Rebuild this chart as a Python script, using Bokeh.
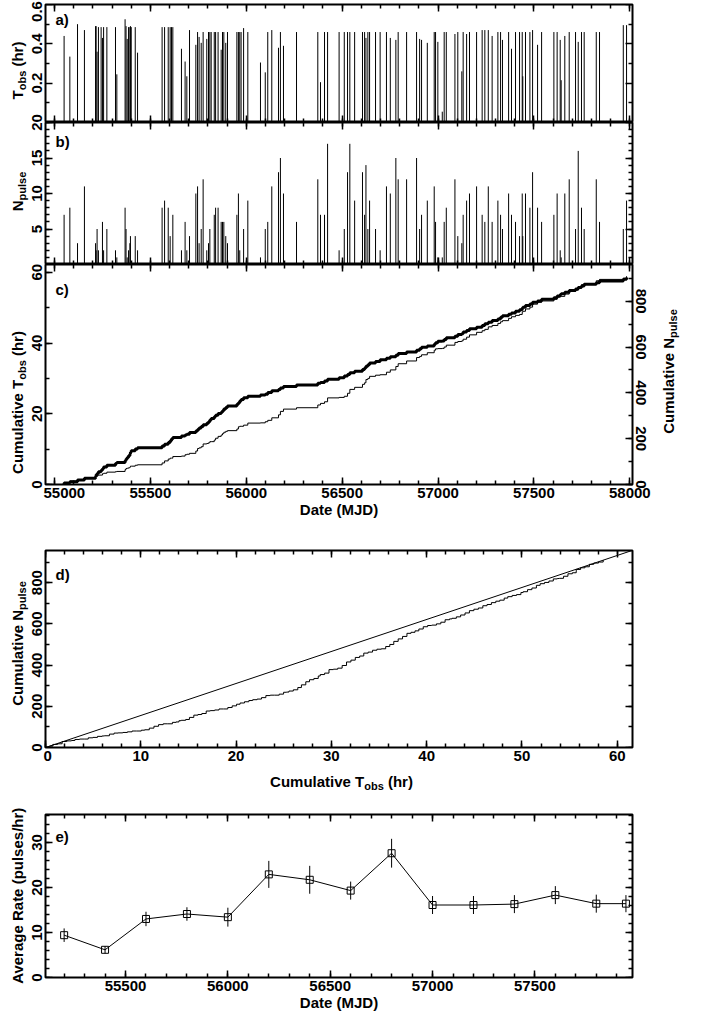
import numpy as np
from bokeh.plotting import figure
from bokeh.models import Range1d, LinearAxis, FixedTicker, Label, ColumnDataSource
from bokeh.layouts import column, row
from bokeh.embed import file_html
from bokeh.resources import INLINE

# ---------------- data ----------------
mjd = [55050, 55080, 55120, 55156, 55214, 55217, 55222, 55229, 55243, 55250,
       55256, 55273, 55318, 55325, 55368, 55373, 55379, 55386, 55393, 55396,
       55400, 55421, 55433, 55561, 55574, 55593, 55603, 55610, 55617, 55662,
       55681, 55690, 55704, 55737, 55746, 55754, 55765, 55775, 55794, 55803,
       55810, 55817, 55833, 55840, 55853, 55869, 55876, 55883, 55893, 55902,
       55951, 55959, 55966, 55973, 55986, 56008, 56074, 56099, 56112, 56133,
       56168, 56178, 56194, 56262, 56373, 56387, 56408, 56424, 56484, 56511,
       56528, 56540, 56565, 56606, 56617, 56624, 56634, 56643, 56674, 56698,
       56731, 56751, 56780, 56792, 56836, 56888, 56904, 56914, 56944, 56980,
       56987, 56999, 57022, 57032, 57043, 57088, 57103, 57124, 57131, 57149,
       57164, 57201, 57230, 57244, 57262, 57282, 57312, 57326, 57336, 57368,
       57383, 57404, 57425, 57439, 57442, 57456, 57479, 57493, 57519, 57540,
       57604, 57621, 57637, 57642, 57661, 57684, 57717, 57731, 57748, 57762,
       57825, 57842, 57966, 57983]
t_obs = [0.44, 0.335, 0.50, 0.47, 0.49, 0.49, 0.36, 0.485, 0.485, 0.43,
         0.485, 0.485, 0.485, 0.245, 0.525, 0.49, 0.425, 0.485, 0.485, 0.49,
         0.485, 0.485, 0.355, 0.485, 0.485, 0.485, 0.485, 0.485, 0.485, 0.375,
         0.31, 0.235, 0.47, 0.395, 0.46, 0.435, 0.405, 0.46, 0.425, 0.46,
         0.46, 0.46, 0.46, 0.46, 0.46, 0.37, 0.46, 0.46, 0.405, 0.46,
         0.46, 0.46, 0.46, 0.46, 0.48, 0.46, 0.305, 0.255, 0.46, 0.47,
         0.38, 0.46, 0.39, 0.46, 0.46, 0.205, 0.46, 0.46, 0.46, 0.46,
         0.46, 0.46, 0.46, 0.46, 0.46, 0.43, 0.46, 0.46, 0.46, 0.46,
         0.46, 0.43, 0.42, 0.46, 0.46, 0.46, 0.425, 0.42, 0.405, 0.46,
         0.46, 0.41, 0.055, 0.46, 0.46, 0.45, 0.46, 0.26, 0.46, 0.45,
         0.46, 0.46, 0.47, 0.47, 0.47, 0.44, 0.46, 0.46, 0.42, 0.46,
         0.375, 0.46, 0.46, 0.46, 0.235, 0.46, 0.46, 0.47, 0.395, 0.46,
         0.46, 0.46, 0.42, 0.215, 0.44, 0.46, 0.46, 0.41, 0.46, 0.46,
         0.46, 0.46, 0.495, 0.495]
n_pulse = [7, 8, 3, 11, 3, 2, 5, 2, 0, 6,
           2, 5, 2, 1, 8, 5, 1, 2, 3, 4,
           0, 4, 2, 8, 9, 8, 4, 0, 7, 2,
           6, 2, 4, 10, 11, 3, 5, 12, 2, 3,
           5, 0, 7, 8, 8, 6, 6, 6, 4, 3,
           7, 10, 2, 0, 5, 9, 1, 5, 6, 11,
           13, 15, 10, 6, 12, 7, 7, 17, 2, 5,
           13, 17, 9, 13, 7, 14, 5, 9, 5, 2,
           11, 10, 15, 12, 12, 15, 5, 7, 9, 11,
           6, 1, 1, 6, 8, 12, 4, 3, 7, 9,
           10, 11, 7, 6, 11, 6, 9, 7, 5, 10,
           7, 6, 4, 10, 4, 10, 8, 13, 8, 6,
           7, 10, 2, 1, 10, 12, 5, 16, 8, 5,
           12, 6, 5, 9]

bin_mjd = [55200, 55400, 55600, 55800, 56000, 56200, 56400, 56600, 56800,
           57000, 57200, 57400, 57600, 57800, 57945]
avg_rate = [9.4, 6.15, 13.0, 14.1, 13.4, 22.9, 21.7, 19.3, 27.6,
            16.1, 16.1, 16.3, 18.3, 16.4, 16.4]
rate_err = [1.5, 0.8, 1.6, 1.5, 2.1, 3.0, 3.1, 2.0, 3.2,
            2.0, 2.0, 2.0, 2.0, 2.0, 1.9]

# tick labels shown on the left-hand axes
yticks_a = [0.2, 0.4, 0.6]
yticks_b = [5, 10, 15, 20]
yticks_c = [0, 20, 40, 60]
yticks_d = [0, 200, 400, 600, 800]
yticks_e = [0, 10, 20, 30]

# ---------------- derived tables ----------------
cum_t = np.cumsum(t_obs)
cum_n = np.cumsum(n_pulse)
mean_rate = cum_n[-1] / cum_t[-1]

obs_src = ColumnDataSource(dict(x=mjd, t=t_obs, n=n_pulse, z=[0] * len(mjd)))
cum_src = ColumnDataSource(dict(x=[mjd[0]] + mjd, ct=[0.0] + list(cum_t),
                                cn=[0] + list(cum_n)))
rate_src = ColumnDataSource(dict(x=bin_mjd, r=avg_rate,
                                 lo=[r - e for r, e in zip(avg_rate, rate_err)],
                                 hi=[r + e for r, e in zip(avg_rate, rate_err)]))

FONT = "Liberation Sans"
FW = 587
ROT = np.pi / 2
MAJ, MIN = 7, 4

# Liberation Sans Bold advance widths (1/1000 em)
AW = {' ': 278, '(': 333, ')': 333, '.': 278, '/': 278, 'A': 722, 'C': 722, 'N': 722,
      'R': 722, 'T': 611, 'a': 556, 'b': 611, 'e': 556, 'g': 611, 'h': 611, 'i': 278,
      'l': 278, 'm': 889, 'o': 611, 'p': 611, 'r': 389, 's': 556, 't': 333, 'u': 611,
      'v': 556}


def tw(s, size):
    return sum(AW.get(c, 556) for c in s) * size / 1000.0


def make_fig(fh, xr, yr, top, bottom, right=2):
    p = figure(frame_width=FW, frame_height=fh, x_range=xr, y_range=yr,
               x_axis_location=None, y_axis_location=None,
               min_border_left=2, min_border_right=right,
               min_border_top=top, min_border_bottom=bottom,
               output_backend="svg", toolbar_location=None)
    p.grid.visible = False
    p.outline_line_color = "black"
    p.outline_line_width = 2
    p.background_fill_color = "white"
    p.border_fill_color = "white"
    return p


def tick_only(p, side, loc, major, minor, range_name=None):
    for vals, L in ((major, MAJ), (minor, MIN)):
        ax = LinearAxis(ticker=FixedTicker(ticks=[], minor_ticks=list(vals)),
                        fixed_location=loc)
        if range_name:
            ax.y_range_name = range_name
        ax.axis_line_color = None
        ax.major_tick_in = 0
        ax.major_tick_out = 0
        ax.minor_tick_in = L
        ax.minor_tick_out = 0
        ax.minor_tick_line_width = 1.5
        ax.minor_tick_line_color = "black"
        p.add_layout(ax, side)


def labeled(p, side, major, minor, vertical=False, range_name=None, title=None):
    ax = LinearAxis(ticker=FixedTicker(ticks=list(major), minor_ticks=list(minor)))
    if range_name:
        ax.y_range_name = range_name
    ax.axis_line_color = None
    ax.major_tick_in = MAJ
    ax.major_tick_out = 0
    ax.minor_tick_in = MIN
    ax.minor_tick_out = 0
    ax.major_tick_line_width = 1.5
    ax.minor_tick_line_width = 1.5
    ax.major_tick_line_color = "black"
    ax.minor_tick_line_color = "black"
    ax.major_label_text_font = FONT
    ax.major_label_text_font_size = "15px"
    ax.major_label_text_font_style = "bold"
    ax.major_label_text_color = "black"
    ax.major_label_standoff = 3
    if vertical:
        ax.major_label_orientation = "vertical"
    if title:
        ax.axis_label = title
        ax.axis_label_text_font = FONT
        ax.axis_label_text_font_size = "15px"
        ax.axis_label_text_font_style = "bold"
        ax.axis_label_text_color = "black"
        ax.axis_label_standoff = 0
    p.add_layout(ax, side)


def panel_tag(p, fh, text, dx, dy):
    xr, yr = p.x_range, p.y_range
    p.add_layout(Label(x=xr.start + dx * (xr.end - xr.start) / FW,
                       y=yr.start + dy * (yr.end - yr.start) / fh,
                       text=text, text_font=FONT, text_font_size="15px",
                       text_font_style="bold", text_color="black"))


date_major = np.arange(55000, 58001, 500)
date_minor = np.arange(54900, 58101, 100)
xr_date = Range1d(54953, 58014)

# ---------------- panel a ----------------
HA = 118
fa = make_fig(HA, xr_date, Range1d(0, 0.6), 4, 0)
fa.segment(x0="x", y0="z", x1="x", y1="t", source=obs_src, line_color="black", line_width=1)
tick_only(fa, "below", 0, date_major, date_minor)
tick_only(fa, "above", 0.6, date_major, date_minor)
a_maj = [0, 0.2, 0.4, 0.6]
a_min = [0.1, 0.3, 0.5]
tick_only(fa, "left", 54953, a_maj, a_min)
tick_only(fa, "right", 58014, a_maj, a_min)
panel_tag(fa, HA, "a)", 10, 95)

# ---------------- panel b ----------------
HB = 142
fb = make_fig(HB, xr_date, Range1d(0, 20), 0, 0)
fb.segment(x0="x", y0="z", x1="x", y1="n", source=obs_src, line_color="black", line_width=1)
tick_only(fb, "below", 0, date_major, date_minor)
tick_only(fb, "above", 20, date_major, date_minor)
b_maj = np.arange(0, 21, 5)
b_min = np.arange(0, 21, 1)
tick_only(fb, "left", 54953, b_maj, b_min)
tick_only(fb, "right", 58014, b_maj, b_min)
panel_tag(fb, HB, "b)", 10, 115)

# ---------------- panel c ----------------
HC = 220
fc = make_fig(HC, xr_date, Range1d(0, 62.2), 0, 40, right=22)
fc.extra_y_ranges = {"n": Range1d(0, 960)}
fc.step(x="x", y="cn", source=cum_src, mode="after", y_range_name="n",
        line_color="black", line_width=1)
fc.step(x="x", y="ct", source=cum_src, mode="after", line_color="black", line_width=3)
labeled(fc, "below", date_major, date_minor, title="Date (MJD)")
tick_only(fc, "above", 62.2, date_major, date_minor)
tick_only(fc, "left", 54953, np.arange(0, 61, 20), np.arange(0, 61, 10))
labeled(fc, "right", np.arange(0, 801, 200), np.arange(0, 901, 100),
        vertical=True, range_name="n")
panel_tag(fc, HC, "c)", 10, 187)

# ---------------- panel d ----------------
HD = 197
fd = make_fig(HD, Range1d(0, 61.6), Range1d(0, 956), 26, 21)
fd.step(x="ct", y="cn", source=cum_src, mode="after", line_color="black", line_width=1)
fd.line(x=[0, 61.6], y=[0, mean_rate * 61.6], line_color="black", line_width=1)
labeled(fd, "below", np.arange(0, 61, 10), np.arange(0, 62, 2))
tick_only(fd, "above", 956, np.arange(0, 61, 10), np.arange(0, 62, 2))
tick_only(fd, "left", 0, np.arange(0, 901, 200), np.arange(0, 901, 100))
tick_only(fd, "right", 61.6, np.arange(0, 901, 200), np.arange(0, 901, 100))
panel_tag(fd, HD, "d)", 10, 165)


def blank_fig(w, h):
    p = figure(frame_width=w, frame_height=h, x_range=Range1d(0, w),
               y_range=Range1d(0, h), x_axis_location=None, y_axis_location=None,
               min_border=0, min_border_left=0, min_border_right=0,
               min_border_top=0, min_border_bottom=0,
               output_backend="svg", toolbar_location=None)
    p.grid.visible = False
    p.outline_line_color = None
    p.border_fill_color = "white"
    p.background_fill_color = "white"
    return p


# strip under panel d holding its composite x label (abs x 51.., y 776..800)
SH = 24
strip = blank_fig(FW + 4, SH)

# ---------------- panel e ----------------
HE = 163
fe = make_fig(HE, Range1d(55109, 57977), Range1d(0, 36.2), 22, 38)
fe.segment(x0="x", y0="lo", x1="x", y1="hi", source=rate_src, line_color="black", line_width=1)
fe.line(x="x", y="r", source=rate_src, line_color="black", line_width=1)
fe.scatter(x="x", y="r", source=rate_src, marker="square", size=7,
           fill_color=None, line_color="black", line_width=1)
e_xmaj = np.arange(55500, 57501, 500)
e_xmin = np.arange(55200, 57901, 100)
labeled(fe, "below", e_xmaj, e_xmin, title="Date (MJD)")
tick_only(fe, "above", 36.2, e_xmaj, e_xmin)
tick_only(fe, "left", 55109, np.arange(0, 31, 10), np.arange(0, 37, 2))
tick_only(fe, "right", 57977, np.arange(0, 31, 10), np.arange(0, 37, 2))
panel_tag(fe, HE, "e)", 10, 133)

main = column(fa, fb, fc, fd, strip, fe)
TOTAL = (4 + HA) + HB + (HC + 40) + (26 + HD + 21) + SH + (22 + HE + 38)

LW, RW = 43, 28
left = blank_fig(LW, TOTAL)
right = blank_fig(RW, TOTAL)


def txt(p, x, y, text, size=15, angle=0.0):
    p.add_layout(Label(x=x, y=y, text=text, text_font=FONT, text_font_size=f"{size}px",
                       text_font_style="bold", text_color="black", angle=angle,
                       text_align="left", text_baseline="alphabetic"))


def vlabel(p, x0_abs, base_abs, center_abs, parts):
    """Rotated (reading upward) composite label; parts = (text, size, subscript)."""
    total = sum(tw(t, s) for t, s, _ in parts)
    y_abs = center_abs + total / 2.0
    for t, s, sub in parts:
        shown = t.lstrip(" ")
        y_abs -= tw(t[:len(t) - len(shown)], s)
        txt(p, base_abs - x0_abs + (4 if sub else 0), TOTAL - (y_abs - 8), shown, s, ROT)
        y_abs -= tw(shown, s)


def yticklabels(vals, top, fh, lo, hi, fmt, clamp_top=None):
    for v in vals:
        c = top + (hi - v) / (hi - lo) * fh
        if clamp_top is not None:
            c = max(c, clamp_top)
        s = fmt(v)
        start = c + tw(s, 15) / 2.0
        txt(left, 44 - 8, TOTAL - (start - 8), s, 15, ROT)


yticklabels(yticks_a, 12, HA, 0, 0.6, lambda v: f"{v:.1f}", clamp_top=19)
yticklabels(yticks_b, 130, HB, 0, 20, lambda v: f"{v:d}")
yticklabels(yticks_c, 272, HC, 0, 62.2, lambda v: f"{v:d}")
yticklabels(yticks_d, 558, HD, 0, 956, lambda v: f"{v:d}")
yticklabels(yticks_e, 822, HE, 0, 36.2, lambda v: f"{v:d}")

vlabel(left, 8, 25, 78, [("T", 15, False), ("obs", 11, True), (" (hr)", 15, False)])
vlabel(left, 8, 25, 199, [("N", 15, False), ("pulse", 11, True)])
vlabel(left, 8, 25, 410, [("Cumulative T", 15, False), ("obs", 11, True), (" (hr)", 15, False)])
vlabel(left, 8, 25, 651, [("Cumulative N", 15, False), ("pulse", 11, True)])
vlabel(left, 8, 25, 903, [("Average Rate (pulses/hr)", 15, False)])
vlabel(right, 662, 676, 379, [("Cumulative N", 15, False), ("pulse", 11, True)])

# composite x label of panel d
parts = [("Cumulative T", 15, False), ("obs", 11, True), (" (hr)", 15, False)]
x_abs = 347 - sum(tw(t, s) for t, s, _ in parts) / 2.0
for t, s, sub in parts:
    shown = t.lstrip(" ")
    x_abs += tw(t[:len(t) - len(shown)], s)
    txt(strip, x_abs - 51, 800 - (789 + (4 if sub else 0)), shown, s)
    x_abs += tw(shown, s)

layout = row(left, main, right)
open("out.html", "w").write(file_html(layout, INLINE))
